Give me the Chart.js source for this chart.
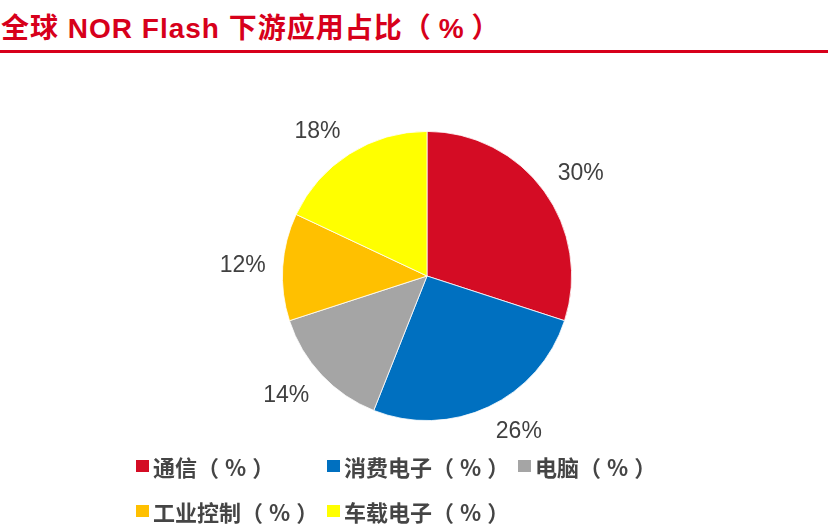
<!DOCTYPE html>
<html>
<head>
<meta charset="utf-8">
<script src="https://cdn.jsdelivr.net/npm/chart.js"></script>
<style>
  html, body { margin: 0; padding: 0; background: #fff; }
  #wrap { position: relative; width: 828px; height: 529px; overflow: hidden; }
  #title {
    position: absolute; left: 1px; top: 6px;
    font-family: "Liberation Sans", "Noto Sans CJK SC", sans-serif;
    font-weight: bold; font-size: 28px; color: #D7001B; white-space: nowrap;
    letter-spacing: 1px;
  }
  #title .pct { padding: 0 7px; }
  #rule { position: absolute; left: 0; top: 50px; width: 828px; height: 3px; background: #D7001B; }
  #chart { position: absolute; left: 0; top: 0; }
  #legend {
    position: absolute; left: 136px; top: 443px; width: 620px;
    font-family: "Noto Sans CJK SC", sans-serif; font-weight: bold;
    font-size: 22px; color: #454545;
  }
  .row { display: flex; height: 45px; align-items: center; }
  .item { display: flex; align-items: center; min-width: 191px; white-space: nowrap; }
  .item .pct { padding: 0 6px; }
  .sw { width: 13px; height: 12px; margin-right: 4px; }
</style>
</head>
<body>
<div id="wrap">
  <div id="title">全球 NOR Flash 下游应用占比（<span class="pct">%</span>）</div>
  <div id="rule"></div>
  <canvas id="chart" width="828" height="529"></canvas>
  <div id="legend"></div>
</div>
<script>
// data
const categories = ['通信（%）', '消费电子（%）', '电脑（%）', '工业控制（%）', '车载电子（%）'];
const shares = [30, 26, 14, 12, 18];
const colors = ['#D40C24', '#0070C0', '#A5A5A5', '#FFC000', '#FFFF00'];
const legendRows = [[0, 1, 2], [3, 4]];

// legend in html, % gets a bit of room like the original
const legendEl = document.getElementById('legend');
legendRows.forEach(row => {
    const r = document.createElement('div');
    r.className = 'row';
    row.forEach(i => {
        const txt = categories[i].replace('%', '<span class="pct">%</span>');
        r.insertAdjacentHTML('beforeend',
            `<div class="item"><span class="sw" style="background:${colors[i]}"></span>${txt}</div>`);
    });
    legendEl.appendChild(r);
});

// percent labels outside the slices, box corner sits on the mid ray
const outsideLabels = {
    id: 'outsideLabels',
    afterDatasetsDraw(chart) {
        const ctx = chart.ctx;
        const meta = chart.getDatasetMeta(0);
        const clamp = v => Math.max(-1, Math.min(1, v));
        ctx.save();
        ctx.font = '23px "Liberation Sans", Arial, sans-serif';
        ctx.fillStyle = '#404040';
        ctx.textAlign = 'center';
        ctx.textBaseline = 'middle';
        meta.data.forEach((arc, i) => {
            const p = arc.getProps(['x', 'y', 'startAngle', 'endAngle', 'outerRadius'], true);
            const mid = (p.startAngle + p.endAngle) / 2;
            const label = shares[i] + '%';
            const w = ctx.measureText(label).width;
            const h = 17;
            const d = p.outerRadius + 17;
            const cx = p.x + Math.cos(mid) * d + clamp(Math.cos(mid) * 3) * w / 2;
            const cy = p.y + Math.sin(mid) * d + clamp(Math.sin(mid) * 2) * h / 2;
            ctx.fillText(label, cx, cy + 1);
        });
        ctx.restore();
    }
};

new Chart(document.getElementById('chart'), {
    type: 'pie',
    data: {
        labels: categories,
        datasets: [{
            data: shares,
            backgroundColor: colors,
            borderColor: '#ffffff',
            borderWidth: 0.8
        }]
    },
    options: {
        responsive: false,
        animation: false,
        layout: { padding: { top: 131, bottom: 108, left: 282, right: 256 } },
        plugins: {
            legend: { display: false },
            tooltip: { enabled: false }
        }
    },
    plugins: [outsideLabels]
});
</script>
</body>
</html>
